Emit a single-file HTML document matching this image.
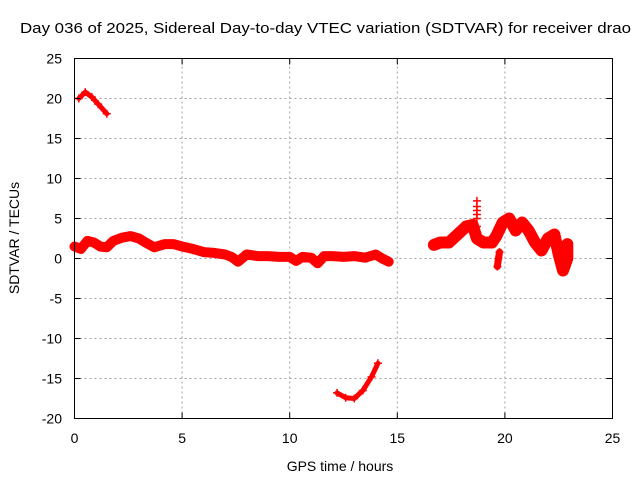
<!DOCTYPE html>
<html><head><meta charset="utf-8"><style>
body{margin:0;background:#fff;}
svg{display:block;font-family:"Liberation Sans",sans-serif;}
</style></head><body>
<svg id="chart" width="640" height="480" viewBox="0 0 640 480">
<text x="20" y="33" font-size="15" textLength="611" lengthAdjust="spacingAndGlyphs">Day 036 of 2025, Sidereal Day-to-day VTEC variation (SDTVAR) for receiver drao</text>
<g id="grid"></g>
<g id="marks"></g>
<rect x="74.5" y="58.5" width="538" height="360" fill="none" stroke="#000"/>
<g id="axes"></g>
<text x="340" y="471" font-size="14" text-anchor="middle">GPS time / hours</text>
<text transform="translate(19,238) rotate(-90)" font-size="14" text-anchor="middle">SDTVAR / TECUs</text>
</svg>
<script>
const xTicks=[0,5,10,15,20,25];
const yTicks=[-20,-15,-10,-5,0,5,10,15,20,25];
const segMainT=[0,0.3,0.6,0.9,1.2,1.5,1.8,2.2,2.6,3.0,3.3,3.7,4.2,4.6,5.0,5.5,6.0,6.5,7.0,7.3,7.6,8.0,8.5,9.0,9.5,10,10.3,10.6,11,11.3,11.6,12,12.5,13,13.5,14,14.3,14.6];
const segMainV=[1.5,1.2,2.2,2.0,1.5,1.4,2.2,2.6,2.8,2.5,2.0,1.4,1.8,1.8,1.5,1.2,0.8,0.7,0.5,0.2,-0.4,0.5,0.3,0.3,0.2,0.2,-0.3,0.2,0.1,-0.6,0.3,0.3,0.2,0.3,0.1,0.5,0,-0.4];
const segTopT=[0.2,0.5,0.8,1.1,1.5];
const segTopV=[20,20.8,20.2,19.3,18.1];
const segLowT=[12.2,12.6,13.0,13.4,13.8,14.1];
const segLowV=[-16.8,-17.4,-17.5,-16.5,-14.8,-13.1];
const segLateT=[16.7,17.0,17.4,17.8,18.2,18.5,18.7,19.0,19.4,19.6,19.9,20.2,20.5,20.8,21.1,21.4,21.7,22.0,22.3,22.5,22.7,22.9,22.9];
const segLateV=[1.7,2.0,2.0,3.0,4.0,4.2,2.5,2.0,2.0,2.8,4.5,5.0,3.5,4.5,3.5,2.0,1.0,2.5,3.0,0.5,-1.5,0,1.8];
const spikeT=[18.7,18.7,18.7,18.7,18.7,18.7,18.7];
const spikeV=[3,4,5,5.5,6,6.5,7.2];
const blobT=[19.65,19.7,19.75];
const blobV=[-1,0,0.8];
const X0=74.5,X1=612.5,Y0=418.5,Y1=58.5;
const xs=t=>X0+(t-0)/(25-0)*(X1-X0);
const ys=v=>Y0-(v-(-20))/(25-(-20))*(Y0-Y1);
const NS="http://www.w3.org/2000/svg";
const grid=document.getElementById('grid'),axes=document.getElementById('axes'),marks=document.getElementById('marks');
function mk(tag,attrs,parent){const e=document.createElementNS(NS,tag);for(const k in attrs)e.setAttribute(k,attrs[k]);parent.appendChild(e);return e;}
xTicks.forEach(t=>{const x=xs(t);
 if(t>0&&t<25){const g=mk('line',{x1:x,x2:x,y1:Y0,y2:Y1,stroke:'#a0a0a0','stroke-dasharray':'2,3'},grid);
 
 }
 mk('line',{x1:x,x2:x,y1:Y0,y2:Y0-6,stroke:'#000'},axes);mk('line',{x1:x,x2:x,y1:Y1,y2:Y1+6,stroke:'#000'},axes);
 const l=mk('text',{x:x,y:443,'font-size':14,'text-anchor':'middle'},axes);l.textContent=t;
 
 });
yTicks.forEach(v=>{const y=ys(v);
 if(v>-20&&v<25){const g=mk('line',{x1:X0,x2:X1,y1:y,y2:y,stroke:'#a0a0a0','stroke-dasharray':'2,3'},grid);
 
 }
 mk('line',{x1:X0,x2:X0+6,y1:y,y2:y,stroke:'#000'},axes);mk('line',{x1:X1,x2:X1-6,y1:y,y2:y,stroke:'#000'},axes);
 const l=mk('text',{x:62,y:y+5,'font-size':14,'text-anchor':'end'},axes);l.textContent=v;
 
 });
function seg(T,V,w,name){const p=mk('polyline',{points:T.map((t,i)=>xs(t)+','+ys(V[i])).join(' '),fill:'none',stroke:'#f00','stroke-width':w,'stroke-linejoin':'round','stroke-linecap':'round'},marks);
 
 
 T.forEach((t,i)=>{const x=xs(t),y=ys(V[i]);const m=mk('path',{d:`M${x-4},${y}h8M${x},${y-4}v8`,stroke:'#f00','stroke-width':1.5},marks);
 
 });}
seg(segMainT,segMainV,10,'series-main');
seg(segTopT,segTopV,5,'series-top');
seg(segLowT,segLowV,5,'series-low');
seg(segLateT,segLateV,12,'series-late');
seg(blobT,blobV,7,'series-blob');
spikeT.forEach((t,i)=>{const x=xs(t),y=ys(spikeV[i]);const m=mk('path',{d:`M${x-4},${y}h8M${x},${y-4}v8`,stroke:'#f00','stroke-width':1.5},marks);
 
 });
</script>
</body></html>
